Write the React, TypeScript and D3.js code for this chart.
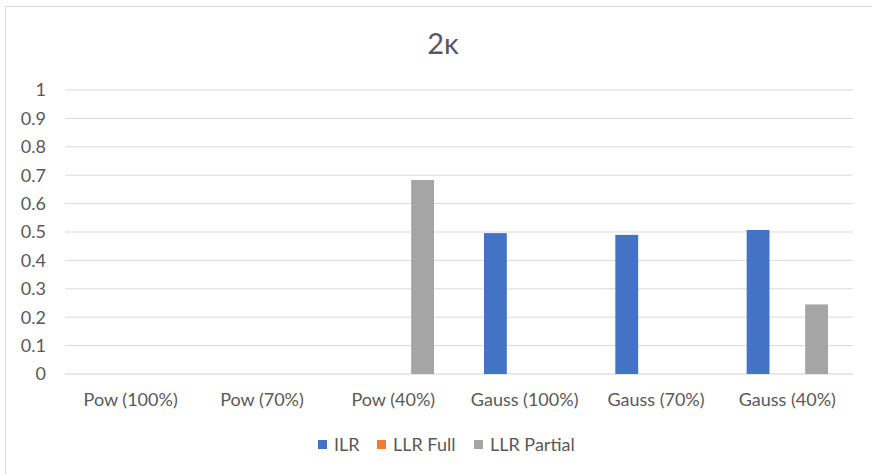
// 2κ grouped bar chart, Excel-like styling
import React from "react";
import * as d3 from "d3";

const categories = ["Pow (100%)", "Pow (70%)", "Pow (40%)", "Gauss (100%)", "Gauss (70%)", "Gauss (40%)"];
const seriesNames = ["ILR", "LLR Full", "LLR Partial"];
const ilr = [0, 0, 0, 0.496, 0.49, 0.507];
const llrFull = [0, 0, 0, 0, 0, 0];
const llrPartial = [0, 0, 0.683, 0, 0, 0.245];
const yTicks = [0, 0.1, 0.2, 0.3, 0.4, 0.5, 0.6, 0.7, 0.8, 0.9, 1];
const colors = ["#4472c4", "#ed7d31", "#a5a5a5"];

const W = 872, H = 474;
const font = "Lato, 'Open Sans', sans-serif";

export default function App() {
  const series = [ilr, llrFull, llrPartial];
  const x = d3.scaleBand<string>().domain(categories).range([65, 853]);
  const y = d3.scaleLinear().domain([0, 1]).range([374, 90]);
  // bars within a category
  const inner = d3.scaleBand<string>()
    .domain(seriesNames)
    .range([25, x.bandwidth() - 25])
    .paddingInner(0.22);

  const legendX = [318, 377, 474];

  return (
    <svg width={W} height={H} style={{ position: "absolute", left: 0, top: 0, background: "#fff" }}>
      <rect x={5.5} y={6.5} width={W + 10} height={H + 10} fill="#fff" stroke="#d9d9d9" />
      <text x={443} y={54} textAnchor="middle" fontSize={29} fill="#595959" fontFamily={font}>2κ</text>
      {yTicks.map((t) => (
        <g key={t}>
          <line x1={65} x2={853} y1={y(t)} y2={y(t)} stroke={t === 0 ? "#d0d0d0" : "#d9d9d9"} strokeWidth={1} />
          <text x={46} y={y(t)} dy="0.35em" textAnchor="end" fontSize={18} fill="#595959" fontFamily={font}>
            {d3.format("~g")(t)}
          </text>
        </g>
      ))}
      {series.map((vals, si) =>
        vals.map((v, ci) =>
          v > 0 ? (
            <rect
              key={`${si}-${ci}`}
              x={(x(categories[ci]) ?? 0) + (inner(seriesNames[si]) ?? 0)}
              y={y(v)}
              width={inner.bandwidth()}
              height={y(0) - y(v)}
              fill={colors[si]}
            />
          ) : null
        )
      )}
      {categories.map((c) => (
        <text key={c} x={(x(c) ?? 0) + x.bandwidth() / 2} y={406} textAnchor="middle" fontSize={18} fill="#595959" fontFamily={font}>
          {c}
        </text>
      ))}
      {seriesNames.map((s, i) => (
        <g key={s}>
          <rect x={legendX[i]} y={440} width={9} height={9} fill={colors[i]} />
          <text x={legendX[i] + 16} y={450.5} fontSize={18} fill="#595959" fontFamily={font}>{s}</text>
        </g>
      ))}
    </svg>
  );
}
